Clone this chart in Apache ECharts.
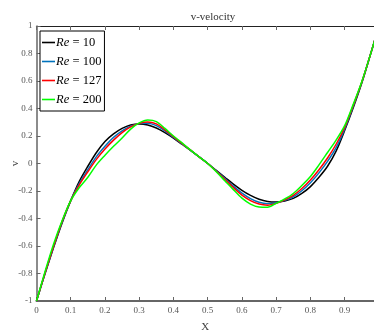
<!DOCTYPE html>
<html><head><meta charset="utf-8">
<script src="https://cdn.jsdelivr.net/npm/echarts@6/dist/echarts.min.js"></script>
<style>html,body{margin:0;padding:0;background:#fff}#c{width:374px;height:335px}</style>
</head><body><div id="c"></div>
<script>
const xValues = [0,0.025,0.05,0.075,0.1,0.125,0.15,0.175,0.2,0.225,0.25,0.275,0.3,0.325,0.35,0.375,0.4,0.425,0.45,0.475,0.5,
                 0.525,0.55,0.575,0.6,0.625,0.65,0.675,0.7,0.725,0.75,0.775,0.8,0.825,0.85,0.875,0.9,0.925,0.95,0.975,1];
const re10  = [-1,-0.80,-0.61,-0.43,-0.27,-0.13,-0.02,0.08,0.16,0.215,0.255,0.28,0.288,0.28,0.258,0.225,0.185,0.14,0.095,0.048,0,
               -0.05,-0.10,-0.15,-0.195,-0.232,-0.26,-0.276,-0.28,-0.272,-0.254,-0.218,-0.168,-0.10,-0.02,0.09,0.24,0.405,0.585,0.79,1];
const re100 = [-1,-0.798,-0.605,-0.425,-0.27,-0.145,-0.045,0.05,0.125,0.19,0.238,0.272,0.29,0.293,0.275,0.238,0.19,0.143,0.096,0.048,0,
               -0.053,-0.108,-0.165,-0.215,-0.255,-0.282,-0.292,-0.285,-0.268,-0.242,-0.198,-0.14,-0.068,0.015,0.115,0.25,0.415,0.59,0.79,1];
const re127 = [-1,-0.795,-0.60,-0.42,-0.27,-0.155,-0.06,0.03,0.105,0.17,0.225,0.266,0.292,0.302,0.288,0.245,0.195,0.146,0.097,0.048,0,
               -0.056,-0.114,-0.175,-0.23,-0.27,-0.295,-0.303,-0.29,-0.265,-0.232,-0.182,-0.12,-0.045,0.04,0.14,0.262,0.422,0.592,0.79,1];
const re200 = [-1,-0.785,-0.585,-0.415,-0.27,-0.175,-0.10,-0.01,0.06,0.125,0.185,0.25,0.295,0.316,0.305,0.255,0.20,0.15,0.097,0.048,0,
               -0.06,-0.125,-0.19,-0.252,-0.295,-0.316,-0.318,-0.29,-0.258,-0.218,-0.16,-0.095,-0.01,0.08,0.17,0.275,0.43,0.595,0.79,1];
const seriesNames = ['Re = 10','Re = 100','Re = 127','Re = 200'];
const seriesColors = ['#000000','#0072BD','#FF0000','#00FF00'];
const allData = [re10, re100, re127, re200];
const xTickMax = 0.9857; // right edge of the visible (cropped) frame

const chart = echarts.init(document.getElementById('c'));
const F = 'Liberation Serif';
const tickLabel = {color:'#555', fontFamily:F, fontSize:9};
chart.setOption({
  animation:false,
  backgroundColor:'#fff',
  title:{text:'v-velocity', left:208, top:7, textAlign:'center',
    textStyle:{fontFamily:F, fontSize:11, fontWeight:'normal', color:'#333'}},
  grid:{left:36.5, right:0, top:26, bottom:34, outerBoundsMode:'none', containLabel:false},
  legend:{
    left:40, top:31, orient:'vertical',
    backgroundColor:'#fff', borderColor:'#000', borderWidth:1,
    padding:[5,3,5,2], itemWidth:13, itemHeight:14, itemGap:6,
    icon:'path://M0,0 H13 V1.6 H0 Z',
    formatter: n => '{i|Re} {n|' + n.slice(3) + '}',
    textStyle:{padding:[0,0,0,-4], rich:{
      i:{fontFamily:F, fontStyle:'italic', fontSize:12.5, color:'#000'},
      n:{fontFamily:F, fontSize:12.5, color:'#000'}}},
    data:seriesNames
  },
  xAxis:[{
    type:'value', min:0, max:xTickMax, interval:0.1, position:'bottom',
    name:'X', nameLocation:'middle', nameGap:26, nameMoveOverlap:false,
    nameTextStyle:{fontFamily:F, fontSize:11, color:'#444', verticalAlign:'middle'},
    axisLine:{onZero:false, lineStyle:{color:'#666', width:2}},
    axisTick:{inside:true, length:4, lineStyle:{color:'#666', width:1}},
    axisLabel:{...tickLabel, margin:5, showMaxLabel:false},
    splitLine:{show:false}
  },{
    type:'value', min:0, max:xTickMax, interval:0.1, position:'top',
    axisLine:{onZero:false, lineStyle:{color:'#222', width:1.2}},
    axisTick:{inside:true, length:4, lineStyle:{color:'#666'}},
    axisLabel:{show:false}, splitLine:{show:false}
  }],
  yAxis:[{
    type:'value', min:-1, max:1, interval:0.2,
    name:'v', nameLocation:'middle', nameGap:21, nameMoveOverlap:false,
    nameTextStyle:{fontFamily:F, fontSize:11, color:'#444', verticalAlign:'middle'},
    axisLine:{show:true, onZero:false, lineStyle:{color:'#666', width:1.5}},
    axisTick:{show:true, inside:true, length:4, lineStyle:{color:'#666'}},
    axisLabel:{...tickLabel, margin:4, formatter: v => String(Math.round(v*10)/10)},
    splitLine:{show:false}
  }],
  series: allData.map((d,i)=>({
    name:seriesNames[i], type:'line', xAxisIndex:0, yAxisIndex:0,
    data:xValues.map((x,k)=>[x,d[k]]),
    smooth:0.3, showSymbol:false, symbol:'none',
    lineStyle:{color:seriesColors[i], width:1.5},
    itemStyle:{color:seriesColors[i]}
  }))
});
</script></body></html>
